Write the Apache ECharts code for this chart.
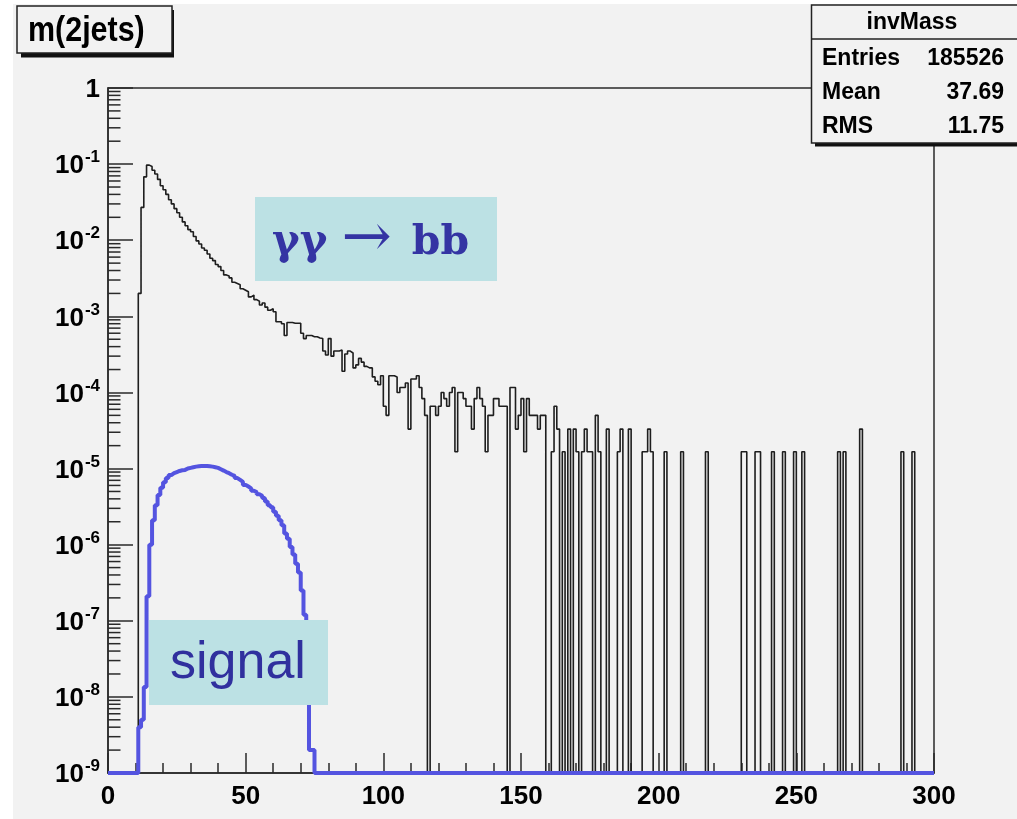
<!DOCTYPE html>
<html><head><meta charset="utf-8">
<script src="https://cdn.jsdelivr.net/npm/echarts@6/dist/echarts.min.js"></script>
<style>html,body{margin:0;padding:0;background:#fff}#c{width:1017px;height:819px}</style>
</head><body><div id="c"></div>
<script>
// ---------------- data ----------------
const histTitle = 'm(2jets)';
const statsName = 'invMass';
const statsLabels = ['Entries', 'Mean', 'RMS'];
const statsValues = ['185526', '37.69', '11.75'];
const binWidth = 1;
const xMin = 0, xMax = 300, xStep = 50;
const yMin = 1e-9, yMax = 1;
const minorMantissas = [2, 3, 4, 5, 6, 7, 8, 9];

// background (gamma gamma -> bb), one value per 1-unit bin, 0..299
const bkg = [
  0,0,0,0,0,0,0,0,0,0,
  0,2e-3,0.027,0.068,0.097,0.093,0.083,0.074,0.063,0.052,
  0.046,0.040,0.034,0.030,0.026,0.023,0.020,0.0174,0.0155,0.0138,
  0.0129,0.0112,0.0098,0.0089,0.0079,0.0074,0.0066,0.0058,0.0054,0.0048,
  0.0045,0.0040,0.0035,0.0034,0.0032,0.0028,0.0027,0.0026,0.0023,0.0022,
  0.0021,0.0018,0.0019,0.00166,0.00158,0.00141,0.0015,0.00132,0.0012,0.00126,
  0.00115,0.00085,0.00085,0.0008,0.00056,0.00083,0.00083,0.00081,0.00081,0.00081,
  0.0006,0.00051,0.00056,0.00056,0.00054,0.00054,0.00052,0.00051,0.00035,0.00031,
  0.00051,0.0003,0.00035,0.00035,0.00036,0.00019,0.00032,0.00035,0.00033,0.00021,
  0.00023,0.00028,0.00025,0.00022,0.00021,0.00021,0.00016,0.00014,0.000126,0.000166,
  6.6e-5,5e-5,1.66e-4,1.66e-4,1.6e-4,1e-4,1.16e-4,1.16e-4,1.33e-4,3.3e-5,
  1.5e-4,1.5e-4,1.66e-4,1.16e-4,8.3e-5,5e-5,0,6.6e-5,6.6e-5,5e-5,
  6.6e-5,1e-4,8.3e-5,6.6e-5,1e-4,1.16e-4,1.66e-5,1e-4,1e-4,8.3e-5,
  6.6e-5,6.6e-5,3.3e-5,8.3e-5,1.16e-4,8.3e-5,6.6e-5,1.66e-5,5e-5,5e-5,
  8.3e-5,8.3e-5,6.6e-5,6.6e-5,6.6e-5,0,1.16e-4,1.16e-4,3.3e-5,5e-5,
  8.3e-5,1.66e-5,8.3e-5,5e-5,5e-5,5e-5,3.3e-5,5e-5,5e-5,0,
  0,1.66e-5,6.6e-5,3.3e-5,0,1.66e-5,0,3.3e-5,0,3.3e-5,
  1.66e-5,0,1.66e-5,3.3e-5,1.66e-5,1.66e-5,0,5e-5,1.66e-5,0,
  0,3.3e-5,0,0,0,1.66e-5,3.3e-5,0,0,3.3e-5,
  0,0,0,0,1.66e-5,1.66e-5,3.3e-5,1.66e-5,0,0,
  0,0,1.66e-5,0,0,0,0,0,1.66e-5,0,
  0,0,0,0,0,0,0,1.66e-5,0,0,
  0,0,0,0,0,0,0,0,0,0,
  1.66e-5,1.66e-5,0,0,0,1.66e-5,1.66e-5,0,0,0,
  0,1.66e-5,0,0,0,1.66e-5,0,0,0,1.66e-5,
  0,0,1.66e-5,0,0,0,0,0,0,0,
  0,0,0,0,0,1.66e-5,0,1.66e-5,0,0,
  0,0,0,3.3e-5,0,0,0,0,0,0,
  0,0,0,0,0,0,0,0,1.66e-5,0,
  0,0,1.66e-5,0,0,0,0,0,0,0
];

// signal, bins 11..74 (all other bins empty)
const sigStart = 11;
const sigVals = [
  4e-9,5e-9,1.35e-8,2.1e-7,1e-6,2.1e-6,3.3e-6,4.5e-6,5.6e-6,
  6.6e-6,7.5e-6,8.2e-6,8.7e-6,9e-6,9.3e-6,9.5e-6,9.6e-6,1e-5,1.02e-5,
  1.04e-5,1.06e-5,1.07e-5,1.08e-5,1.08e-5,1.08e-5,1.07e-5,1.06e-5,1.04e-5,1.02e-5,
  9.8e-6,9.4e-6,9e-6,8.7e-6,8.3e-6,8e-6,7.5e-6,7.1e-6,6.7e-6,6.1e-6,
  5.8e-6,5.5e-6,5.1e-6,4.9e-6,4.6e-6,4.4e-6,4.1e-6,3.7e-6,3.3e-6,3.1e-6,
  2.7e-6,2.4e-6,2.1e-6,1.8e-6,1.4e-6,1.2e-6,9.3e-7,7.4e-7,5.6e-7,4.3e-7,
  2.5e-7,1.2e-7,2e-8,2e-9,2e-9
];

// ---------------- build ----------------
const FONT = '"Liberation Sans", Arial, Helvetica, sans-serif';
const nBins = bkg.length;
const sig = new Array(nBins).fill(0);
sigVals.forEach((v, i) => { sig[sigStart + i] = v; });

function histPoints(vals) {
  const pts = [];
  for (let i = 0; i < vals.length; i++) {
    const v = vals[i] > 0 ? vals[i] : yMin; // empty bins drop to the frame bottom
    pts.push([xMin + i * binWidth, v], [xMin + (i + 1) * binWidth, v]);
  }
  return pts;
}

const minorTickVals = [];
for (let e = -9; e < 0; e++) minorMantissas.forEach(m => minorTickVals.push([xMin, m * Math.pow(10, e)]));

const axisCol = '#2a2a2a';
const chart = echarts.init(document.getElementById('c'), null, {renderer: 'canvas'});

const option = {
  backgroundColor: '#f2f2f2',
  animation: false,
  grid: {left: 108, right: 83, top: 88, bottom: 46, show: true, borderColor: axisCol, borderWidth: 1.5, backgroundColor: 'transparent'},
  xAxis: {
    type: 'value', min: xMin, max: xMax, interval: xStep,
    axisLine: {show: true, lineStyle: {color: axisCol, width: 1.5}},
    axisTick: {show: true, inside: true, length: 20, lineStyle: {color: axisCol, width: 1.5}},
    minorTick: {show: true, splitNumber: 5, length: 10, lineStyle: {color: axisCol, width: 1.5}},
    splitLine: {show: false}, minorSplitLine: {show: false},
    axisLabel: {color: '#000', fontSize: 26, fontWeight: 'bold', fontFamily: FONT, margin: 11}
  },
  yAxis: {
    type: 'log', logBase: 10, min: yMin, max: yMax, interval: 1, splitNumber: 9,
    axisLine: {show: true, lineStyle: {color: axisCol, width: 1.5}},
    axisTick: {show: true, inside: true, length: 25, lineStyle: {color: axisCol, width: 1.5}},
    splitLine: {show: false},
    axisLabel: {
      margin: 8,
      formatter: function (v) {
        const e = Math.round(Math.log10(v));
        if (e === 0) return '{b|1}';
        return '{b|10}{s|' + e + '}';
      },
      rich: {
        b: {fontSize: 26, fontWeight: 'bold', fontFamily: FONT, color: '#000', lineHeight: 30, verticalAlign: 'bottom'},
        s: {fontSize: 17, fontWeight: 'bold', fontFamily: FONT, color: '#000', lineHeight: 30, verticalAlign: 'top', padding: [0, 0, 0, 1]}
      }
    }
  },
  series: [
    {
      type: 'custom', name: 'yMinorTicks', coordinateSystem: 'cartesian2d', silent: true, z: 5,
      data: minorTickVals,
      renderItem: function (params, api) {
        const p = api.coord([api.value(0), api.value(1)]);
        return {type: 'line', shape: {x1: p[0], y1: p[1], x2: p[0] + 12.5, y2: p[1]}, style: {stroke: axisCol, lineWidth: 1.5}};
      }
    },
    {
      type: 'line', name: 'bkg', data: histPoints(bkg), showSymbol: false, symbol: 'none', clip: false, z: 3,
      lineStyle: {color: '#1e1e1e', width: 1.6}
    },
    {
      type: 'line', name: 'signal', data: histPoints(sig), showSymbol: false, symbol: 'none', clip: false, z: 4,
      lineStyle: {color: '#5454e0', width: 4}
    }
  ],
  graphic: {elements: [
    // white margin of the image
    {type: 'rect', shape: {x: 0, y: 0, width: 13, height: 819}, style: {fill: '#ffffff'}, silent: true},
    {type: 'rect', shape: {x: 0, y: 0, width: 1017, height: 4}, style: {fill: '#ffffff'}, silent: true},
    // title box
    {type: 'rect', shape: {x: 21, y: 10, width: 153, height: 47.5}, style: {fill: '#111'}, z: 10},
    {type: 'rect', shape: {x: 17, y: 6, width: 155, height: 47}, style: {fill: '#f2f2f2', stroke: '#222', lineWidth: 1.5}, z: 11},
    {type: 'text', x: 28, y: 31, scaleX: 0.87, z: 12, style: {text: histTitle, font: 'bold 35px ' + FONT, fill: '#000', align: 'left', verticalAlign: 'middle'}},
    // stats box
    {type: 'rect', shape: {x: 815, y: 9, width: 210, height: 137.5}, style: {fill: '#111'}, z: 10},
    {type: 'rect', shape: {x: 811.5, y: 5, width: 215, height: 138}, style: {fill: '#f2f2f2', stroke: '#222', lineWidth: 1.5}, z: 11},
    {type: 'line', shape: {x1: 811.5, y1: 39, x2: 1017, y2: 39}, style: {stroke: '#222', lineWidth: 1.5}, z: 12},
    {type: 'text', x: 912, y: 23, z: 12, style: {text: statsName, font: 'bold 23px ' + FONT, fill: '#000', align: 'center', verticalAlign: 'middle'}},
    {type: 'text', x: 822, y: 59, z: 12, style: {text: statsLabels[0], font: 'bold 23px ' + FONT, fill: '#000', align: 'left', verticalAlign: 'middle'}},
    {type: 'text', x: 1004, y: 59, z: 12, style: {text: statsValues[0], font: 'bold 23px ' + FONT, fill: '#000', align: 'right', verticalAlign: 'middle'}},
    {type: 'text', x: 822, y: 93, z: 12, style: {text: statsLabels[1], font: 'bold 23px ' + FONT, fill: '#000', align: 'left', verticalAlign: 'middle'}},
    {type: 'text', x: 1004, y: 93, z: 12, style: {text: statsValues[1], font: 'bold 23px ' + FONT, fill: '#000', align: 'right', verticalAlign: 'middle'}},
    {type: 'text', x: 822, y: 127, z: 12, style: {text: statsLabels[2], font: 'bold 23px ' + FONT, fill: '#000', align: 'left', verticalAlign: 'middle'}},
    {type: 'text', x: 1004, y: 127, z: 12, style: {text: statsValues[2], font: 'bold 23px ' + FONT, fill: '#000', align: 'right', verticalAlign: 'middle'}},
    // annotation: gamma gamma -> bb
    {type: 'rect', shape: {x: 255, y: 197, width: 242, height: 84}, style: {fill: '#bce1e4'}, z: 10},
    {type: 'text', x: 272, y: 243, z: 12, style: {
      text: '{g|γγ}{a|→}{b|bb}', align: 'left', verticalAlign: 'middle',
      rich: {
        g: {font: 'bold 42px "DejaVu Serif", serif', fill: '#3434a3', verticalAlign: 'middle'},
        a: {font: '60px "DejaVu Serif", serif', fill: '#3434a3', padding: [0, 20, 6, 14], verticalAlign: 'middle'},
        b: {font: 'bold 41px "DejaVu Serif", serif', fill: '#3434a3', verticalAlign: 'middle'}
      }}},
    // annotation: signal
    {type: 'rect', shape: {x: 149, y: 620, width: 179, height: 85}, style: {fill: '#bce1e4'}, z: 10},
    {type: 'text', x: 170, y: 664, z: 12, style: {text: 'signal', font: '52px ' + FONT, fill: '#30309e', align: 'left', verticalAlign: 'middle'}}
  ]}
};
chart.setOption(option);
</script>
</body></html>
